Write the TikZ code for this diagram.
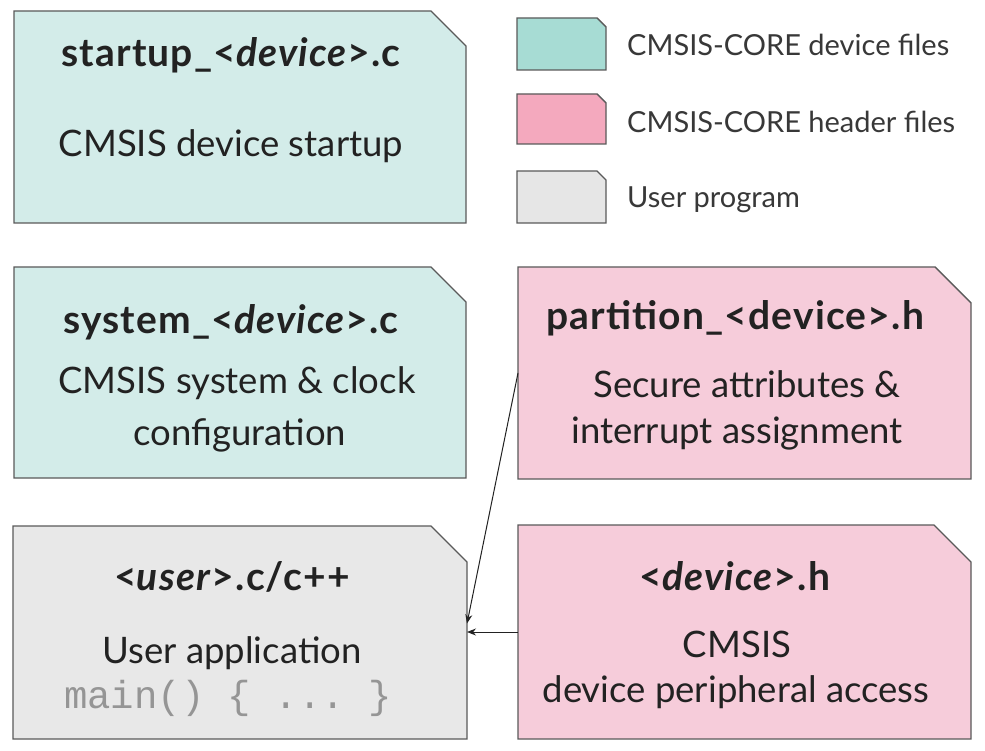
\documentclass[tikz,border=0pt]{standalone}
\usepackage{fontspec}
\setmainfont{Lato}
\setmonofont{Liberation Mono}
\usetikzlibrary{arrows.meta,calc}
\definecolor{cyanbox}{HTML}{D3ECE9}
\definecolor{pinkbox}{HTML}{F6CCDA}
\definecolor{graybox}{HTML}{E8E8E8}
\definecolor{cyanleg}{HTML}{A7DCD4}
\definecolor{pinkleg}{HTML}{F4A9BE}
\definecolor{grayleg}{HTML}{E6E6E6}
\definecolor{edge}{HTML}{5A5A5A}
\definecolor{txt}{HTML}{222222}
\definecolor{codegray}{HTML}{959595}
\newcommand{\filebox}[7]{%
  \node[inner sep=0pt,outer sep=0pt,minimum width=#4-#2,minimum height=#5-#3,anchor=north west] (#1) at (#2,#3) {};
  \filldraw[boxline,fill=#6] (#1.north west) -- ([xshift=-#7]#1.north east) -- ([yshift=-#7]#1.north east) -- (#1.south east) -- (#1.south west) -- cycle;}
\tikzset{
  boxline/.style={draw=edge,line width=1.4pt,line join=miter},
  titletext/.style={anchor=base,text=txt,font=\fontsize{39}{46}\selectfont\bfseries\addfontfeature{LetterSpace=3},inner sep=0pt},
  bodytext/.style={anchor=base,text=txt,font=\fontsize{36.5}{44}\selectfont,inner sep=0pt},
  codetext/.style={anchor=base,text=codegray,font=\fontsize{39}{46}\selectfont\ttfamily,inner sep=0pt},
  legtext/.style={anchor=base west,text=txt!90,font=\fontsize{29}{35}\selectfont,inner sep=0pt},
  conn/.style={draw=txt,line width=1pt,-{Stealth[length=9pt,width=7pt]}}
}
\begin{document}
\begin{tikzpicture}[x=1pt,y=-1pt]
\useasboundingbox (0,0) rectangle (985,751);
\fill[white] (0,0) rectangle (985,751);
% main boxes
\filebox{startup}{14}{11}{466}{223}{cyanbox}{35pt}
\filebox{system}{14}{267}{466}{478}{cyanbox}{35pt}
\filebox{partition}{518}{267}{971}{479}{pinkbox}{36pt}
\filebox{user}{13}{526}{467}{739}{graybox}{36pt}
\filebox{devh}{518}{525}{971}{739}{pinkbox}{37pt}
% legend boxes
\filebox{leg1}{517}{18}{606}{70}{cyanleg}{9pt}
\filebox{leg2}{517}{94}{606}{144}{pinkleg}{9pt}
\filebox{leg3}{517}{171}{606}{223}{grayleg}{9pt}
% texts
\node[titletext] (t1) at (231,67) {startup\_<\textit{device}>.c};
\node[bodytext] (b1) at (231,157) {CMSIS device startup};
\node[titletext] (t2) at (231,334) {system\_<\textit{device}>.c};
\node[bodytext] (b2a) at (237,393) {CMSIS system \& clock};
\node[bodytext] (b2b) at (240,445) {configuration};
\node[titletext] (t3) at (735,330) {partition\_<device>.h};
\node[bodytext] (b3a) at (747,397) {Secure attributes \&};
\node[bodytext] (b3b) at (737,443) {interrupt assignment};
\node[titletext] (t4) at (232,590) {<\textit{user}>.c/c++};
\node[bodytext] (b4a) at (232,663) {User application};
\node[codetext] (b4b) at (228,708) {main()~\{~...~\}};
\node[titletext] (t5) at (735,590) {<\textit{device}>.h};
\node[bodytext] (b5a) at (737,657) {CMSIS};
\node[bodytext] (b5b) at (736,702) {device peripheral access};
\node[legtext] (l1) at (627,56) {CMSIS-CORE device files};
\node[legtext] (l2) at (627,133) {CMSIS-CORE header files};
\node[legtext] (l3) at (627,208) {User program};
% connectors
\draw[conn] (partition.west) -- ([yshift=9pt]user.east);
\draw[conn] (devh.west) -- (devh.west -| user.east);
\end{tikzpicture}
\end{document}
